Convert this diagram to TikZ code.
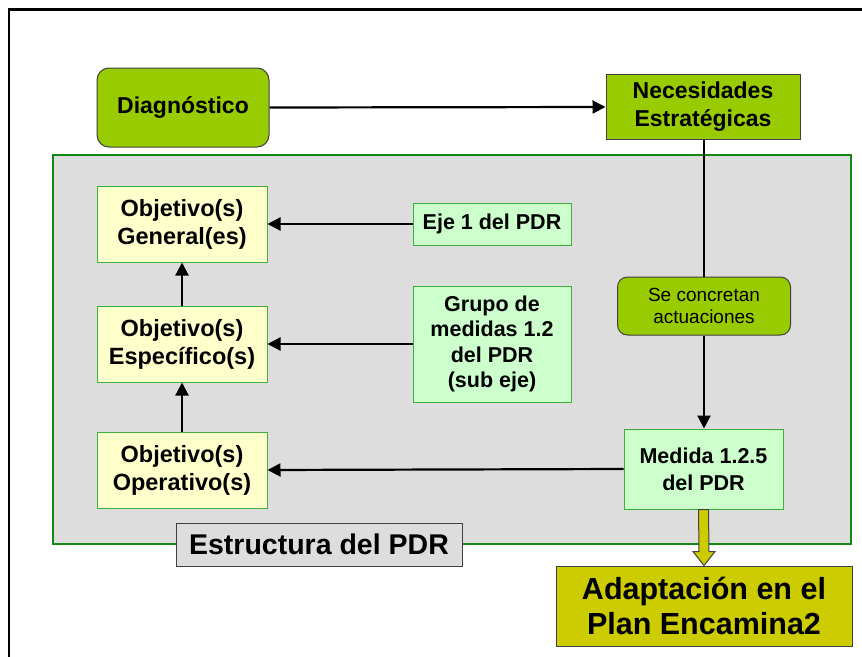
\documentclass[tikz,border=0pt]{standalone}
\usepackage{fontspec}
\setmainfont{Liberation Sans}
\usetikzlibrary{arrows.meta}
\definecolor{lime}{HTML}{99CC00}
\definecolor{paleyellow}{HTML}{FFFFCC}
\definecolor{palegreen}{HTML}{CCFFCC}
\definecolor{panelgray}{HTML}{DDDDDD}
\definecolor{olive}{HTML}{CCCC00}
\definecolor{framegreen}{HTML}{138A13}
\definecolor{boxgreen}{HTML}{3FAF3F}
\definecolor{edgegray}{HTML}{404040}
\tikzset{
  every node/.style={align=center, inner sep=0pt},
  limebox/.style={draw=edgegray, line width=1pt, fill=lime, font=\fontsize{23}{28}\selectfont\bfseries},
  objbox/.style={draw=boxgreen, line width=1pt, fill=paleyellow, minimum width=170pt, minimum height=76pt, font=\fontsize{23.5}{28}\selectfont\bfseries},
  pdrbox/.style={draw=boxgreen, line width=1pt, fill=palegreen, minimum width=158pt, font=\fontsize{21.5}{25.5}\selectfont\bfseries},
  conn/.style={line width=2.2pt, -{Triangle[length=13pt,width=13pt]}},
  plainconn/.style={line width=2.2pt}
}
\begin{document}
\begin{tikzpicture}[x=1pt,y=-1pt]
\clip (0,0) rectangle (862,656);
\useasboundingbox (0,0) rectangle (862,656);
\fill[white] (0,0) rectangle (862,656);
% outer frame (clipped)
\draw[line width=2.4pt] (9,700) -- (9,9.5) -- (900,9.5);
% structure panel
\node[draw=framegreen, line width=2.4pt, fill=panelgray, minimum width=798pt, minimum height=389pt] (panel) at (452,349.5) {};
% top row
\node[limebox, rounded corners=12pt, minimum width=172pt, minimum height=79pt] (diag) at (183,107.5) {Diagnóstico};
\node[limebox, minimum width=194pt, minimum height=65pt] (nec) at (703,107) {Necesidades\\Estratégicas};
% objectives
\node[objbox] (gen) at (182,224) {Objetivo(s)\\General(es)};
\node[objbox] (esp) at (182,344) {Objetivo(s)\\Específico(s)};
\node[objbox] (ope) at (182,470) {Objetivo(s)\\Operativo(s)};
% PDR boxes
\node[pdrbox, minimum height=42pt] (eje) at (492,224) {Eje 1 del PDR};
\node[pdrbox, minimum height=116pt] (grupo) at (492,344) {Grupo de\\medidas 1.2\\del PDR\\(sub eje)};
\node[pdrbox, minimum width=159pt, minimum height=80pt, font=\fontsize{21.5}{27}\selectfont\bfseries] (med) at (703.5,469) {Medida 1.2.5\\del PDR};
\node[draw=edgegray, line width=1pt, fill=lime, rounded corners=10pt, minimum width=173pt, minimum height=58pt, font=\fontsize{19}{22.5}\selectfont] (se) at (704,306) {Se concretan\\actuaciones};
% labels
\node[draw=edgegray, line width=1pt, fill=panelgray, minimum width=286pt, minimum height=43pt, font=\fontsize{28.5}{34}\selectfont\bfseries] (estr) at (319,544.5) {Estructura del PDR};
\node[draw=edgegray, line width=1pt, fill=olive, minimum width=296pt, minimum height=80pt, font=\fontsize{30.5}{35}\selectfont\bfseries] (adap) at (704,606) {Adaptación en el\\Plan Encamina2};
% connectors
\draw[conn] (diag.east) -- (nec.west);
\draw[plainconn] (nec.south -| se.north) -- (se.north);
\draw[conn] (se.south) -- (se.south |- med.north);
\draw[conn] (eje.west) -- (gen.east);
\draw[conn] (grupo.west) -- (esp.east);
\draw[conn] (med.west) -- (ope.east);
\draw[conn] (esp.north) -- (gen.south);
\draw[conn] (ope.north) -- (esp.south);
% block arrow
\coordinate (bt) at (med.south);
\coordinate (bb) at (adap.north);
\draw[draw=edgegray, line width=1pt, fill=olive]
  ([xshift=-5pt]bt) -- ([xshift=5pt]bt) -- ([xshift=5pt,yshift=14pt]bb) -- ([xshift=11pt,yshift=14pt]bb)
  -- (bb) -- ([xshift=-11pt,yshift=14pt]bb) -- ([xshift=-5pt,yshift=14pt]bb) -- cycle;
\end{tikzpicture}
\end{document}
